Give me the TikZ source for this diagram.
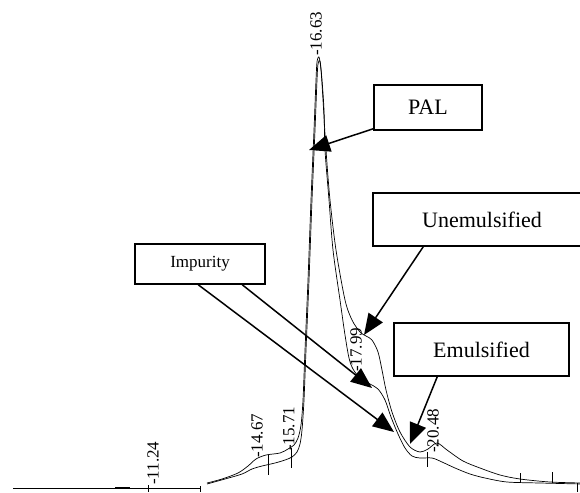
\documentclass[tikz,border=0pt]{standalone}
\usepackage{fontspec}
\setmainfont{Liberation Serif}
\usetikzlibrary{arrows.meta}
\begin{document}
\begin{tikzpicture}[x=1pt,y=-1pt,
  trace/.style={line width=0.7pt,line join=round},
  tickline/.style={line width=0.7pt},
  labelbox/.style={draw,line width=1.5pt,inner sep=0pt,font=\fontsize{22}{24}\selectfont},
  peaklabel/.style={rotate=90,anchor=west,inner sep=0pt,font=\fontsize{17}{18}\selectfont},
  pointer/.style={line width=1.5pt,-{Triangle[length=21pt,width=17pt]}}]
\useasboundingbox (0,0) rectangle (580,492);
\clip (0,0) rectangle (580,492);
% baseline on the left
\draw[tickline] (13,488) -- (200,488);
\draw[line width=1.6pt] (115,488) -- (130,488);
% traces
\draw[trace] plot[smooth,tension=0.5] coordinates {
 (207,483) (222,479) (238,473) (248,466) (256,459) (266,455) (280,453) (288,449)
 (294,445) (298,438) (301,425) (303,400) (305,350) (308,280) (311,200) (314,130)
 (316,80) (317,62) (319,57) (321,70) (323,100) (326,150) (330,200) (336,250)
 (345,300) (352,320) (360,332) (366,336) (372,340) (378,352) (382,370) (386,390)
 (392,412) (400,432) (410,447) (420,452) (428,449) (437,443) (447,450) (463,461)
 (480,468) (500,475) (520,479) (550,482) (582,483)};
\draw[trace] plot[smooth,tension=0.5] coordinates {
 (207,484) (225,479) (242,474) (252,469) (262,466) (275,463) (285,460) (292,457)
 (297,452) (300,444) (302,430) (304,400) (306,350) (309,280) (312,200) (315,130)
 (317,80) (318,64) (320,61) (322,80) (324,110) (325,150) (329,200) (333,250)
 (340,300) (345,335) (349,358) (353,369) (360,378) (370,384) (378,389) (385,400)
 (391,417) (398,434) (405,448) (412,456) (420,458) (432,458) (442,462) (455,468)
 (470,474) (485,478) (507,482) (540,483) (582,484)};
% ticks
\draw[tickline] (148,485) -- (148,492);
\draw[tickline] (200,486) -- (200,492);
\draw[tickline] (268,455) -- (268,475);
\draw[tickline] (291,448) -- (291,468);
\draw[tickline] (427,452) -- (427,467);
\draw[tickline] (520,473) -- (520,483);
\draw[tickline] (552,472) -- (552,483);
\draw[tickline] (577,483) -- (577,492);
% peak labels
\node[peaklabel] (p1663) at (316,56) {-16.63};
\node[peaklabel] (p1124) at (153,485) {-11.24};
\node[peaklabel] (p1467) at (257,458) {-14.67};
\node[peaklabel] (p1571) at (289,451) {-15.71};
\node[peaklabel] (p1799) at (356,372) {-17.99};
\node[peaklabel] (p2048) at (433,453) {-20.48};
% boxes
\node[labelbox,minimum width=108pt,minimum height=45pt] (pal) at (428,107.5) {PAL};
\node[labelbox,minimum width=218pt,minimum height=53pt] (unem) at (482,219.5) {Unemulsified};
\node[labelbox,minimum width=175pt,minimum height=53pt] (emul) at (481.5,349.5) {Emulsified};
\node[labelbox,minimum width=130pt,minimum height=40pt,font=\fontsize{17}{19}\selectfont] (imp) at (200,264) {Impurity};
% arrow targets
\coordinate (tpal) at (309,150);
\coordinate (tunem) at (364,335);
\coordinate (temul) at (410,444);
\coordinate (timpa) at (372,388);
\coordinate (timpb) at (394,432);
% arrows
\draw[pointer] ([yshift=2pt]pal.south west) -- (tpal);
\draw[pointer] ([xshift=51pt]unem.south west) -- (tunem);
\draw[pointer] ([xshift=44pt]emul.south west) -- (temul);
\draw[pointer] ([xshift=108pt]imp.south west) -- (timpa);
\draw[pointer] ([xshift=64pt]imp.south west) -- (timpb);
\end{tikzpicture}
\end{document}
